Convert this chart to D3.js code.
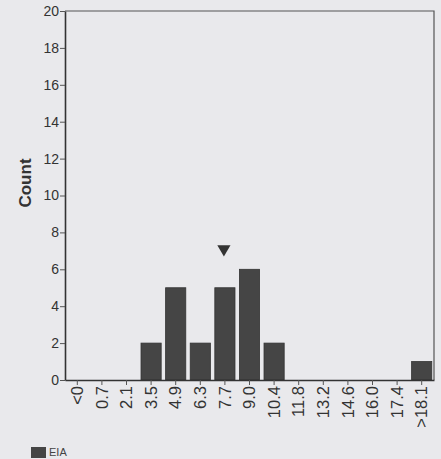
<!DOCTYPE html>
<html>
<head>
<meta charset="utf-8">
<script src="https://cdn.jsdelivr.net/npm/d3@7"></script>
<style>
  html, body { margin: 0; padding: 0; background: #e9e9ec; }
  svg { display: block; font-family: "Liberation Sans", Arial, sans-serif; }
</style>
</head>
<body>
<svg id="chart" width="441" height="459"></svg>
<script>
// ---- data ----
const categories = ["<0", "0.7", "2.1", "3.5", "4.9", "6.3", "7.7", "9.0", "10.4", "11.8", "13.2", "14.6", "16.0", "17.4", ">18.1"];
const counts     = [0, 0, 0, 2, 5, 2, 5, 6, 2, 0, 0, 0, 0, 0, 1];
const yTicks     = [0, 2, 4, 6, 8, 10, 12, 14, 16, 18, 20];
const markerCategory = "7.7";
const markerValue    = 7.1;
const seriesName = "EIA";
const yLabel = "Count";

// ---- layout ----
const W = 441, H = 459;
const m = { left: 65, right: 434, top: 11, bottom: 380 };
const svg = d3.select("#chart");

const x = d3.scaleBand().domain(categories).range([m.left, m.right]).paddingInner(0.18).paddingOuter(0.09);
const y = d3.scaleLinear().domain([0, 20]).range([m.bottom, m.top]);

// frame (top + right)
svg.append("path")
  .attr("d", `M${m.left},${m.top}H${m.right}V${m.bottom}`)
  .attr("fill", "none").attr("stroke", "#555").attr("stroke-width", 1.2);

// bars
svg.append("g").selectAll("rect").data(categories.map((c, i) => ({ c, v: counts[i] })).filter(d => d.v > 0))
  .join("rect")
  .attr("x", d => x(d.c))
  .attr("width", x.bandwidth())
  .attr("y", d => y(d.v))
  .attr("height", d => y(0) - y(d.v))
  .attr("fill", "#454545")
  .attr("stroke", "#333").attr("stroke-width", 0.8);

// y axis
const yAxis = svg.append("g").attr("transform", `translate(${m.left},0)`)
  .call(d3.axisLeft(y).tickValues(yTicks).tickSize(5).tickSizeOuter(0).tickFormat(d3.format("d")));
yAxis.select(".domain").attr("stroke", "#333").attr("stroke-width", 1.6);
yAxis.selectAll(".tick line").attr("stroke", "#555");
yAxis.selectAll(".tick text").attr("font-size", 14).attr("fill", "#333").attr("x", -6)
  .attr("font-family", "Liberation Sans, Arial, sans-serif");

// x axis
const xAxis = svg.append("g").attr("transform", `translate(0,${m.bottom})`)
  .call(d3.axisBottom(x).tickSize(5).tickSizeOuter(0));
xAxis.select(".domain").attr("stroke", "#333").attr("stroke-width", 1.6);
xAxis.selectAll(".tick line").attr("stroke", "#555");
xAxis.selectAll(".tick text")
  .attr("font-size", 16.5).attr("fill", "#333")
  .attr("font-family", "Liberation Sans, Arial, sans-serif")
  .attr("transform", "rotate(-90)")
  .attr("text-anchor", "end")
  .attr("x", -6).attr("y", 0).attr("dy", "0.35em");

// y label
svg.append("text")
  .attr("transform", `translate(31,183) rotate(-90)`)
  .attr("text-anchor", "middle")
  .attr("font-size", 17).attr("font-weight", "bold").attr("fill", "#333")
  .text(yLabel);

// marker triangle
svg.append("path")
  .attr("d", d3.symbol().type(d3.symbolTriangle).size(75))
  .attr("transform", `translate(${x(markerCategory) + x.bandwidth() / 2 - 1},${y(markerValue)}) rotate(180)`)
  .attr("fill", "#333");

// legend
svg.append("rect").attr("x", 31).attr("y", 447).attr("width", 15).attr("height", 11).attr("fill", "#454545");
svg.append("text").attr("x", 49).attr("y", 456).attr("font-size", 11).attr("fill", "#444").text(seriesName);
</script>
</body>
</html>
